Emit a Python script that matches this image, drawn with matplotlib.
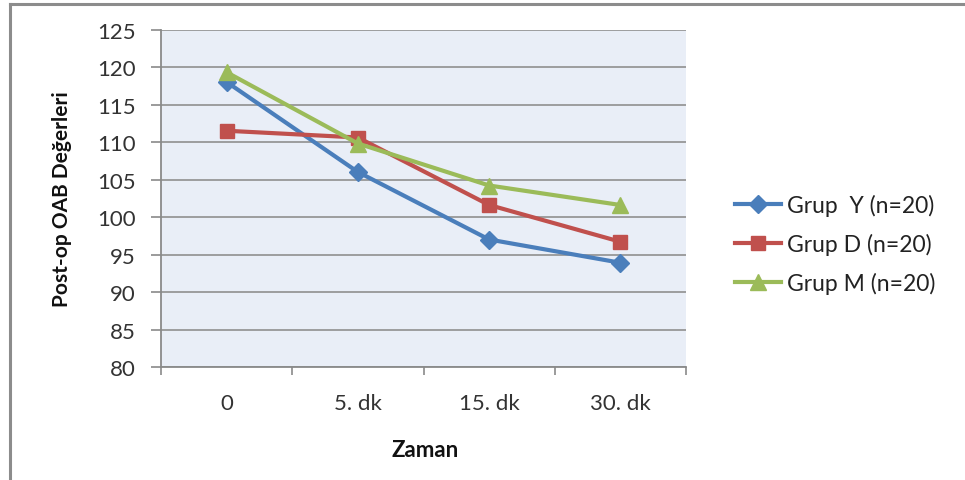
import matplotlib
matplotlib.use("Agg")
import matplotlib.pyplot as plt
from matplotlib.lines import Line2D

# Post-op OAB values per group over time
zaman = ["0", "5. dk", "15. dk", "30. dk"]
grup_y = [118.0, 106.0, 97.0, 93.9]
grup_d = [111.5, 110.6, 101.6, 96.7]
grup_m = [119.3, 109.8, 104.2, 101.6]
series_labels = ["Grup  Y (n=20)", "Grup D (n=20)", "Grup M (n=20)"]
y_ticks = list(range(80, 126, 5))

plt.rcParams["font.family"] = ["Lato", "DejaVu Sans"]

fig = plt.figure(figsize=(9.65, 4.81), dpi=100)
fig.patch.set_facecolor("white")
ax = fig.add_axes([161 / 965, 1 - 368 / 481, 525 / 965, 337.5 / 481])
ax.set_facecolor("#e9eef7")

x = list(range(len(zaman)))
styles = [
    (grup_y, "#4a7ebb", "D", 9),
    (grup_d, "#c0504d", "s", 10.5),
    (grup_m, "#9bbb59", "^", 11),
]
for (vals, color, marker, ms), lab in zip(styles, series_labels):
    ax.plot(x, vals, color=color, lw=3, marker=marker, markersize=ms,
            markeredgecolor=color, label=lab, zorder=3)

ax.set_xlim(-0.5, len(zaman) - 0.5)
ax.set_ylim(80, 125)
ax.set_yticks(y_ticks)
ax.yaxis.grid(True, color="#979797", lw=1.3)
ax.set_axisbelow(True)

ax.set_xticks(x)
ax.set_xticklabels(zaman)
ax.set_xticks([i - 0.5 for i in range(len(zaman) + 1)], minor=True)
ax.tick_params(axis="x", which="major", length=0, pad=19, labelsize=16, colors="#333333")
ax.tick_params(axis="x", which="minor", length=6, width=1.2, color="#8a8a8a")
ax.tick_params(axis="y", length=7, width=1.2, color="#8a8a8a", pad=11, labelsize=16,
               labelcolor="#333333")

for s in ["top", "right"]:
    ax.spines[s].set_visible(False)
for s in ["left", "bottom"]:
    ax.spines[s].set_color("#8a8a8a")
    ax.spines[s].set_linewidth(1.3)

ax.set_ylabel("Post-op OAB Değerleri", fontsize=15, fontweight="bold", color="#111111")
ax.yaxis.set_label_coords(-0.170, 0.5)
ax.set_xlabel("Zaman", fontsize=16, fontweight="bold", color="#111111")
ax.xaxis.set_label_coords(0.503, -0.213)

leg = ax.legend(loc="center left", bbox_to_anchor=(724 / 965, 1 - 245 / 481),
                bbox_transform=fig.transFigure, frameon=False, fontsize=16.5,
                handlelength=2.0, handletextpad=0.25, labelspacing=0.75,
                borderpad=0, markerscale=1.0)
for t in leg.get_texts():
    t.set_color("#222222")

# outer chart frame (left and top edges)
fig.add_artist(Line2D([10 / 965, 10 / 965], [0, 1 - 5 / 481], transform=fig.transFigure,
                      color="#8c8c8c", lw=2.2))
fig.add_artist(Line2D([10 / 965, 1], [1 - 5 / 481, 1 - 5 / 481], transform=fig.transFigure,
                      color="#8c8c8c", lw=2.2))

fig.savefig("out.png", dpi=100, facecolor="white")
